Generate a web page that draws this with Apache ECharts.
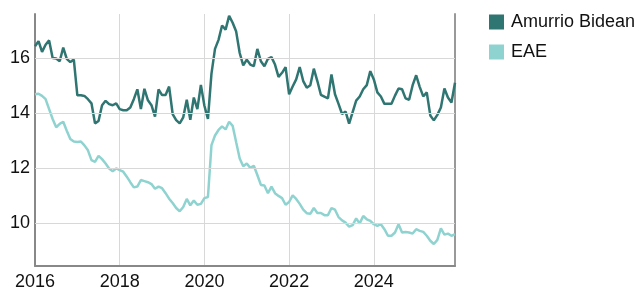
<!DOCTYPE html>
<html>
<head>
<meta charset="utf-8">
<script src="https://cdn.jsdelivr.net/npm/echarts@6/dist/echarts.min.js"></script>
<style>
html, body { margin: 0; padding: 0; background: #fff; }
#chart { width: 639px; height: 291px; }
</style>
</head>
<body>
<div id="chart"></div>
<script>
// series names
var seriesNames = ['Amurrio Bidean', 'EAE'];
// first month of the data, monthly values
var startYear = 2016;
// horizontal grid lines / y tick values
var yTicks = [10, 12, 14, 16];
// Amurrio Bidean, Jan 2016 .. Dec 2025
var amurrio = [
    16.45, 16.63, 16.24, 16.5, 16.66, 16.02, 16.0, 15.9, 16.4, 15.99, 15.87, 15.96,
    14.66, 14.66, 14.64, 14.52, 14.37, 13.64, 13.73, 14.3, 14.46, 14.34, 14.3, 14.37,
    14.16, 14.12, 14.12, 14.22, 14.52, 14.88, 14.16, 14.9, 14.48, 14.3, 13.89, 14.88,
    14.67, 14.67, 14.98, 13.98, 13.76, 13.64, 13.86, 14.5, 13.77, 14.58, 14.16, 15.04,
    14.28, 13.8, 15.45, 16.35, 16.68, 17.2, 17.05, 17.55, 17.3, 16.98, 16.2, 15.75,
    15.96, 15.78, 15.72, 16.35, 15.9, 15.72, 15.99, 16.05, 15.78, 15.33, 15.48, 15.69,
    14.7, 14.98, 15.24, 15.69, 15.18, 14.94, 15.03, 15.63, 15.18, 14.68, 14.61, 14.55,
    15.42, 14.7, 14.35, 13.98, 14.07, 13.63, 14.05, 14.47, 14.62, 14.88, 15.03, 15.54,
    15.24, 14.77, 14.62, 14.35, 14.35, 14.35, 14.65, 14.91, 14.88, 14.55, 14.5, 15.03,
    15.39, 14.97, 14.62, 14.77, 13.93, 13.75, 13.95, 14.22, 14.91, 14.58, 14.4, 15.12
];
// EAE, Jan 2016 .. Dec 2025
var eae = [
    14.7, 14.72, 14.64, 14.52, 14.16, 13.8, 13.5, 13.62, 13.7, 13.37, 13.07, 12.98,
    12.96, 12.98, 12.84, 12.66, 12.3, 12.24, 12.46, 12.34, 12.18, 12.0, 11.9, 12.0,
    11.94, 11.88, 11.7, 11.5, 11.31, 11.34, 11.58, 11.54, 11.5, 11.43, 11.26, 11.34,
    11.28, 11.1, 10.9, 10.74, 10.56, 10.44, 10.6, 10.89, 10.66, 10.83, 10.68, 10.71,
    10.92, 10.96, 12.85, 13.2, 13.4, 13.53, 13.42, 13.7, 13.55, 12.95, 12.36, 12.08,
    12.18, 12.02, 12.1, 11.76, 11.4, 11.38, 11.1, 11.34, 11.1, 11.0, 10.92, 10.68,
    10.78, 11.02, 10.89, 10.71, 10.5, 10.37, 10.35, 10.56, 10.38, 10.38, 10.3, 10.3,
    10.56, 10.5, 10.23, 10.11, 10.03, 9.88, 9.94, 10.18, 10.0, 10.27, 10.15, 10.09,
    9.97, 9.91, 9.97, 9.79, 9.55, 9.55, 9.67, 9.97, 9.67, 9.69, 9.67, 9.63,
    9.79, 9.73, 9.69, 9.55, 9.37, 9.25, 9.4, 9.82, 9.59, 9.63, 9.55, 9.61
];

// x as decimal year
function toPoints(values) {
    var d = [];
    for (var i = 0; i < values.length; i++) {
        d.push([startYear + i / 12, values[i]]);
    }
    return d;
}

var chart = echarts.init(document.getElementById('chart'));
var font = 'Liberation Sans, Arial, sans-serif';
var yMin = 8.45, yMax = 17.62;

var option = {
    animation: false,
    backgroundColor: '#fff',
    textStyle: { fontFamily: font },
    grid: { left: 35, right: 184, top: 14, bottom: 22 },
    legend: {
        orient: 'vertical',
        left: 484,
        top: 8,
        icon: 'rect',
        itemWidth: 15,
        itemHeight: 15,
        itemGap: 12,
        textStyle: { fontSize: 18, color: '#111', fontFamily: font, padding: [0, 0, 0, 2] },
        data: seriesNames
    },
    xAxis: {
        type: 'value',
        min: startYear,
        max: startYear + (amurrio.length - 1) / 12,
        interval: 2,
        axisLine: { lineStyle: { color: '#888', width: 2 } },
        axisTick: { show: false },
        axisLabel: {
            fontSize: 18, color: '#111', margin: 7, showMaxLabel: false,
            formatter: function (v) { return String(v); }
        },
        splitLine: { lineStyle: { color: '#d8d8d8', width: 1 } }
    },
    yAxis: [{
        type: 'value',
        min: yMin,
        max: yMax,
        axisLine: { show: true, lineStyle: { color: '#888', width: 2 } },
        axisTick: { show: false },
        axisLabel: {
            fontSize: 18, color: '#111', margin: 5,
            customValues: yTicks
        },
        splitLine: { show: false }
    }, {
        type: 'value',
        position: 'right',
        min: yMin,
        max: yMax,
        axisLine: { show: true, lineStyle: { color: '#999', width: 2 } },
        axisTick: { show: false },
        axisLabel: { show: false },
        splitLine: { show: false }
    }],
    series: [{
        // holds the horizontal grid lines only
        type: 'line',
        data: [],
        z: 0,
        silent: true,
        markLine: {
            silent: true,
            symbol: 'none',
            label: { show: false },
            lineStyle: { color: '#d8d8d8', width: 1, type: 'solid' },
            data: yTicks.map(function (v) { return { yAxis: v }; })
        }
    }, {
        name: seriesNames[0],
        type: 'line',
        showSymbol: false,
        data: toPoints(amurrio),
        itemStyle: { color: '#2f7572' },
        lineStyle: { color: '#2f7572', width: 2.5 },
        z: 3
    }, {
        name: seriesNames[1],
        type: 'line',
        showSymbol: false,
        data: toPoints(eae),
        itemStyle: { color: '#8fd3d0' },
        lineStyle: { color: '#8fd3d0', width: 2.5 },
        z: 2
    }]
};
chart.setOption(option);
</script>
</body>
</html>
